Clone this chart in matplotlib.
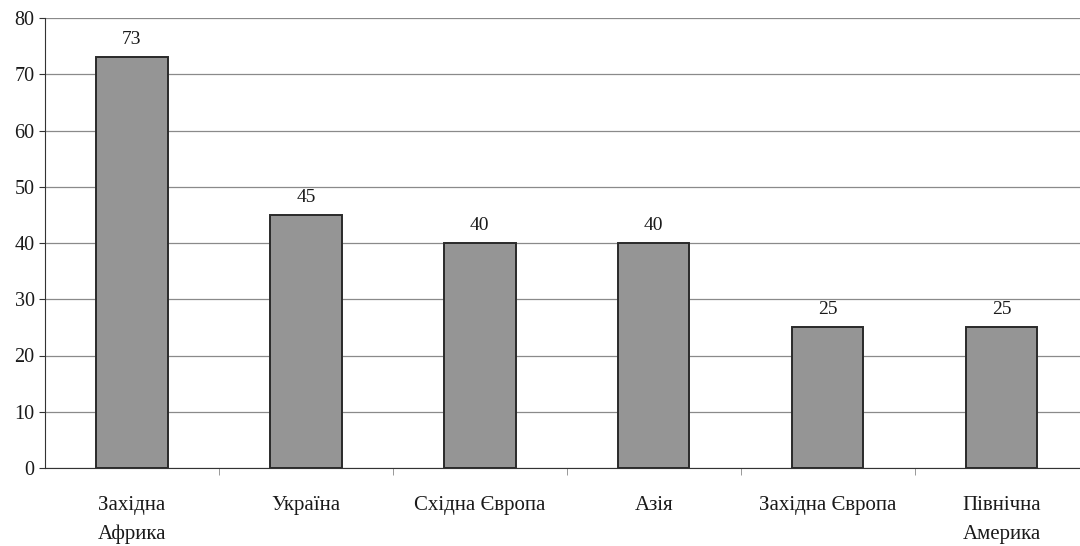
import numpy as np
import matplotlib.pyplot as plt

plt.rcParams['font.family'] = ['Liberation Serif', 'DejaVu Serif']

regions = ['Західна\nАфрика', 'Україна', 'Східна Європа', 'Азія',
           'Західна Європа', 'Північна\nАмерика']
values = [73, 45, 40, 40, 25, 25]
yticks = [0, 10, 20, 30, 40, 50, 60, 70, 80]

fig = plt.figure(figsize=(10.8, 5.46), dpi=100)
ax = fig.add_axes([45 / 1080, 1 - 468 / 546, 1 - 45 / 1080, (468 - 18) / 546])

x = np.arange(len(values))
bars = ax.bar(x, values, width=0.41, color='#959595', edgecolor='#2a2a2a',
              linewidth=1.4, zorder=3)
for xi, v in zip(x, values):
    ax.text(xi, v + 1.6, str(v), ha='center', va='bottom', fontsize=14,
            color='#1a1a1a')

ax.set_xlim(-0.5, 5.45)
ax.set_ylim(0, 80)
ax.set_yticks(yticks)
ax.tick_params(axis='y', labelsize=14.5, length=4, colors='#333333',
               labelcolor='#1a1a1a')
ax.yaxis.grid(True, color='#8a8a8a', linewidth=0.9, zorder=0)

ax.set_xticks(x)
ax.set_xticklabels(regions, fontsize=15, linespacing=1.7, color='#1a1a1a')
ax.tick_params(axis='x', length=0, pad=20)
ax.set_xticks(np.arange(0.5, 5.5, 1), minor=True)
ax.tick_params(axis='x', which='minor', length=5, color='#888888')

for side in ['top', 'right']:
    ax.spines[side].set_visible(False)
ax.spines['left'].set_color('#333333')
ax.spines['bottom'].set_color('#333333')

fig.savefig('out.png', dpi=100)
